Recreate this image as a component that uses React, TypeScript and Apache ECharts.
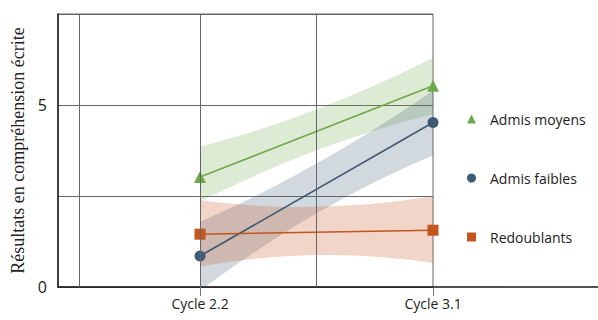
import React, { useEffect, useRef } from "react";
import * as echarts from "echarts";

// categories on the x axis and their positions on the value scale
const cycles = ["Cycle 2.2", "Cycle 3.1"];
const cyclePos = [1, 2];
// positions at which confidence band bounds were read
const bandPos = [1, 1.5, 2];

const seriesNames = ["Admis moyens", "Admis faibles", "Redoublants"];

const moyens = [3.02, 5.53];
const moyensUpper = [3.85, 4.88, 6.3];
const moyensLower = [2.35, 3.75, 4.75];

const faibles = [0.85, 4.52];
const faiblesUpper = [1.79, 3.39, 5.39];
const faiblesLower = [-0.1, 2.02, 3.61];

const redoublants = [1.45, 1.56];
const redoublantsUpper = [2.38, 2.2, 2.49];
const redoublantsLower = [0.56, 0.88, 0.66];

const yTickLabels = ["0", "5"];
const yTicks = [0, 5];

const colors = ["#6fa84a", "#3e5a74", "#c3561f"];
const bandColors = [
  "rgba(111,168,74,0.24)",
  "rgba(62,90,116,0.24)",
  "rgba(200,88,34,0.25)",
];
const symbols = ["triangle", "circle", "rect"];
const symbolSizes = [12, 11, 11];

const X_MIN = 1 - 142 / 233;
const X_MAX = 2;
const vGrid = [1 - 120 / 233, 1, 1.5];

export default function App() {
  const ref = useRef<HTMLDivElement>(null);

  useEffect(() => {
    if (!ref.current) return;
    const chart = echarts.init(ref.current, undefined, { renderer: "svg" });

    const mains = [moyens, faibles, redoublants];
    const uppers = [moyensUpper, faiblesUpper, redoublantsUpper];
    const lowers = [moyensLower, faiblesLower, redoublantsLower];

    const bandSeries: any[] = lowers.map((lo, i) => {
      const up = uppers[i];
      const rows = bandPos.map((x, k) => [x, lo[k], up[k]]);
      return {
        name: "band-" + i,
        type: "custom",
        xAxisIndex: 0,
        yAxisIndex: 0,
        silent: true,
        clip: true,
        z: 2,
        data: rows,
        encode: { x: 0, y: [1, 2] },
        renderItem: (params: any, api: any) => {
          if (params.dataIndex !== 0) return null;
          const L = rows.map((r) => api.coord([r[0], r[1]]));
          const U = rows.map((r) => api.coord([r[0], r[2]]));
          const ctrl = (p: number[][]) => [
            2 * p[1][0] - 0.5 * (p[0][0] + p[2][0]),
            2 * p[1][1] - 0.5 * (p[0][1] + p[2][1]),
          ];
          const cl = ctrl(L);
          const cu = ctrl(U);
          const d =
            `M${L[0][0]},${L[0][1]} Q${cl[0]},${cl[1]} ${L[2][0]},${L[2][1]} ` +
            `L${U[2][0]},${U[2][1]} Q${cu[0]},${cu[1]} ${U[0][0]},${U[0][1]} Z`;
          const cs = params.coordSys;
          return {
            type: "group",
            clipPath: {
              type: "rect",
              shape: { x: cs.x, y: cs.y, width: cs.width, height: cs.height },
            },
            children: [
              {
                type: "path",
                shape: { pathData: d },
                style: { fill: bandColors[i], stroke: "none" },
              },
            ],
          };
        },
      };
    });

    const lineSeries = mains.map((vals, i) => ({
      name: seriesNames[i],
      type: "line",
      xAxisIndex: 0,
      yAxisIndex: 0,
      data: cyclePos.map((x, k) => [x, vals[k]]),
      symbol: symbols[i],
      symbolSize: symbolSizes[i],
      color: colors[i],
      lineStyle: { color: colors[i], width: 1.6 },
      itemStyle: { color: colors[i] },
      z: 4,
    }));

    const gridSeries = {
      name: "grid-lines",
      type: "line",
      xAxisIndex: 0,
      yAxisIndex: 0,
      data: [],
      silent: true,
      z: 1,
      markLine: {
        silent: true,
        symbol: "none",
        label: { show: false },
        lineStyle: { color: "#666", width: 1, type: "solid" },
        data: vGrid.map((v) => ({ xAxis: v })),
      },
    };

    chart.setOption({
      animation: false,
      grid: [
        {
          left: 58,
          top: 14,
          width: 375,
          bottom: 33,
          show: true,
          borderColor: "#666",
          borderWidth: 1,
          backgroundColor: "transparent",
        },
        { left: 433, right: 0, top: 14, bottom: 33 },
      ],
      legend: {
        orient: "vertical",
        left: 462,
        top: 107,
        itemGap: 45,
        itemWidth: 9,
        itemHeight: 9,
        textStyle: {
          fontFamily: "Open Sans",
          fontSize: 14,
          color: "#222",
          padding: [0, 0, 0, 9],
        },
        data: seriesNames.map((n, i) => ({ name: n, icon: symbols[i] })),
      },
      xAxis: [
        {
          type: "value",
          gridIndex: 0,
          min: X_MIN,
          max: X_MAX,
          splitLine: { show: false },
          axisLine: { show: true, onZero: false, lineStyle: { color: "#1a1a1a", width: 1.5 } },
          axisTick: {
            show: true,
            customValues: cyclePos,
            length: 9,
            lineStyle: { color: "#777", width: 1 },
          },
          axisLabel: {
            customValues: cyclePos,
            formatter: (v: number) => {
              const idx = cyclePos.indexOf(Math.round(v * 1000) / 1000);
              return idx >= 0 ? cycles[idx] : "";
            },
            margin: 9,
            fontFamily: "Open Sans",
            fontSize: 14,
            color: "#222",
            showMaxLabel: true,
          },
        },
        {
          type: "value",
          gridIndex: 1,
          min: 0,
          max: 1,
          splitLine: { show: false },
          axisLine: { show: true, onZero: false, lineStyle: { color: "#1a1a1a", width: 1.5 } },
          axisTick: { show: false },
          axisLabel: { show: false },
        },
      ],
      yAxis: [
        {
          type: "value",
          gridIndex: 0,
          min: 0,
          max: 7.5,
          interval: 2.5,
          name: "Résultats en compréhension écrite",
          nameLocation: "middle",
          nameGap: 31,
          nameTextStyle: {
            fontFamily: "Liberation Serif",
            fontSize: 18,
            color: "#222",
          },
          axisLine: { show: true, lineStyle: { color: "#1a1a1a", width: 1.5 } },
          axisTick: { show: false },
          splitLine: { show: true, lineStyle: { color: "#666", width: 1 } },
          axisLabel: {
            margin: 11,
            fontFamily: "Open Sans",
            fontSize: 16,
            color: "#222",
            formatter: (v: number) => {
              const idx = yTicks.indexOf(v);
              return idx >= 0 ? yTickLabels[idx] : "";
            },
          },
        },
        {
          type: "value",
          gridIndex: 1,
          show: false,
          min: 0,
          max: 7.5,
        },
      ],
      series: [gridSeries, ...bandSeries, ...lineSeries],
    });

    return () => chart.dispose();
  }, []);

  return (
    <div
      ref={ref}
      style={{ position: "absolute", left: 0, top: 0, width: 598, height: 320 }}
    />
  );
}
